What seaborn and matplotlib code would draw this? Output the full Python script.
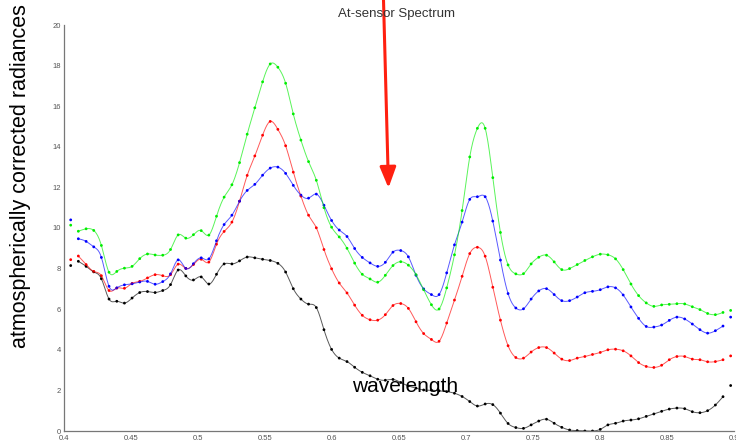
import numpy as np
import pandas as pd
import matplotlib
matplotlib.use("Agg")
import matplotlib.pyplot as plt
import seaborn as sns

wavelength = [0.4050, 0.4107, 0.4165, 0.4222, 0.4279, 0.4336, 0.4394, 0.4451, 0.4508, 0.4565,
              0.4623, 0.4680, 0.4737, 0.4795, 0.4852, 0.4909, 0.4966, 0.5024, 0.5081, 0.5138,
              0.5195, 0.5253, 0.5310, 0.5367, 0.5424, 0.5482, 0.5539, 0.5596, 0.5654, 0.5711,
              0.5768, 0.5825, 0.5883, 0.5940, 0.5997, 0.6054, 0.6112, 0.6169, 0.6226, 0.6284,
              0.6341, 0.6398, 0.6455, 0.6513, 0.6570, 0.6627, 0.6684, 0.6742, 0.6799, 0.6856,
              0.6914, 0.6971, 0.7028, 0.7085, 0.7143, 0.7200, 0.7257, 0.7314, 0.7372, 0.7429,
              0.7486, 0.7543, 0.7601, 0.7658, 0.7715, 0.7773, 0.7830, 0.7887, 0.7944, 0.8002,
              0.8059, 0.8116, 0.8173, 0.8231, 0.8288, 0.8345, 0.8402, 0.8460, 0.8517, 0.8574,
              0.8632, 0.8689, 0.8746, 0.8803, 0.8861, 0.8918, 0.8975]

green = [10.14, 9.84, 9.96, 9.88, 9.14, 7.82, 7.86, 8.02, 8.11, 8.49,
         8.72, 8.67, 8.66, 8.94, 9.66, 9.50, 9.67, 9.87, 9.65, 10.58,
         11.52, 12.13, 13.22, 14.62, 15.92, 17.20, 18.08, 17.92, 17.13, 15.62,
         14.33, 13.27, 12.35, 11.00, 10.04, 9.56, 9.00, 8.27, 7.72, 7.49,
         7.33, 7.67, 8.15, 8.34, 8.17, 7.70, 6.96, 6.22, 6.01, 7.05,
         8.68, 10.86, 13.50, 14.91, 14.91, 12.48, 9.78, 8.18, 7.74, 7.75,
         8.23, 8.56, 8.66, 8.33, 7.95, 8.00, 8.20, 8.40, 8.58, 8.71,
         8.68, 8.48, 7.95, 7.24, 6.67, 6.31, 6.14, 6.21, 6.24, 6.27,
         6.26, 6.12, 5.98, 5.79, 5.73, 5.84, 5.94]

blue = [10.40, 9.47, 9.34, 9.07, 8.55, 7.13, 7.05, 7.20, 7.25, 7.34,
        7.37, 7.23, 7.36, 7.74, 8.43, 8.01, 8.24, 8.53, 8.48, 9.37,
        10.17, 10.63, 11.32, 11.85, 12.15, 12.60, 12.95, 13.00, 12.69, 12.10,
        11.62, 11.47, 11.67, 11.12, 10.37, 9.90, 9.58, 8.99, 8.55, 8.28,
        8.11, 8.31, 8.81, 8.89, 8.58, 7.67, 7.00, 6.72, 6.72, 7.79,
        9.17, 10.29, 11.41, 11.54, 11.54, 10.34, 8.42, 6.77, 6.06, 6.02,
        6.50, 6.90, 7.01, 6.72, 6.42, 6.42, 6.60, 6.81, 6.88, 6.96,
        7.10, 7.05, 6.70, 6.11, 5.55, 5.15, 5.12, 5.22, 5.45, 5.61,
        5.52, 5.27, 4.99, 4.82, 4.94, 5.17, 5.61]

red = [8.44, 8.62, 8.20, 7.86, 7.65, 6.92, 7.04, 7.03, 7.27, 7.37,
       7.54, 7.70, 7.65, 7.70, 8.22, 8.01, 8.20, 8.46, 8.32, 9.20,
       9.83, 10.29, 11.32, 12.59, 13.55, 14.57, 15.25, 14.86, 14.05, 12.75,
       11.57, 10.63, 10.01, 8.94, 7.99, 7.29, 6.80, 6.20, 5.70, 5.48,
       5.46, 5.73, 6.18, 6.28, 6.04, 5.38, 4.80, 4.51, 4.42, 5.32,
       6.45, 7.62, 8.74, 9.05, 8.61, 7.08, 5.46, 4.20, 3.62, 3.59,
       3.89, 4.11, 4.11, 3.84, 3.54, 3.47, 3.59, 3.67, 3.77, 3.87,
       4.00, 4.03, 3.95, 3.70, 3.37, 3.18, 3.13, 3.24, 3.51, 3.67,
       3.67, 3.54, 3.51, 3.41, 3.42, 3.51, 3.70]

black = [8.15, 8.36, 8.11, 7.84, 7.50, 6.50, 6.39, 6.30, 6.55, 6.82,
         6.87, 6.82, 6.92, 7.21, 7.93, 7.64, 7.44, 7.59, 7.24, 7.72,
         8.23, 8.23, 8.38, 8.57, 8.53, 8.46, 8.40, 8.26, 7.83, 7.01,
         6.50, 6.25, 6.08, 4.99, 4.02, 3.59, 3.42, 3.14, 2.89, 2.72,
         2.55, 2.50, 2.54, 2.39, 2.22, 2.11, 2.02, 2.01, 1.98, 1.94,
         1.86, 1.70, 1.45, 1.23, 1.33, 1.30, 0.88, 0.37, 0.17, 0.13,
         0.30, 0.49, 0.58, 0.38, 0.18, 0.05, 0.02, 0.00, 0.00, 0.08,
         0.30, 0.38, 0.49, 0.54, 0.60, 0.72, 0.84, 0.97, 1.08, 1.13,
         1.10, 0.95, 0.90, 1.00, 1.28, 1.69, 2.24]

series_names = ["black", "red", "blue", "green"]
series_values = {"black": black, "red": red, "blue": blue, "green": green}
palette = {"black": "#000000", "red": "#ff0000", "blue": "#0000ff", "green": "#00ee00"}

x_ticks = [0.4, 0.45, 0.5, 0.55, 0.6, 0.65, 0.7, 0.75, 0.8, 0.85, 0.9]
x_tick_labels = ["0.4", "0.45", "0.5", "0.55", "0.6", "0.65", "0.7", "0.75", "0.8", "0.85", "0.9"]
y_ticks = [0, 2, 4, 6, 8, 10, 12, 14, 16, 18, 20]


def natural_spline(x, y, xs):
    x = np.asarray(x, float)
    y = np.asarray(y, float)
    n = len(x)
    h = np.diff(x)
    A = np.zeros((n, n))
    b = np.zeros(n)
    A[0, 0] = 1
    A[-1, -1] = 1
    for i in range(1, n - 1):
        A[i, i - 1] = h[i - 1]
        A[i, i] = 2 * (h[i - 1] + h[i])
        A[i, i + 1] = h[i]
        b[i] = 3 * ((y[i + 1] - y[i]) / h[i] - (y[i] - y[i - 1]) / h[i - 1])
    c = np.linalg.solve(A, b)
    idx = np.clip(np.searchsorted(x, xs) - 1, 0, n - 2)
    dx = xs - x[idx]
    bb = (y[idx + 1] - y[idx]) / h[idx] - h[idx] * (2 * c[idx] + c[idx + 1]) / 3
    d = (c[idx + 1] - c[idx]) / (3 * h[idx])
    return y[idx] + bb * dx + c[idx] * dx ** 2 + d * dx ** 3


# sample points table
rows = []
for s in series_names:
    for w, v in zip(wavelength, series_values[s]):
        rows.append((w, v, s))
pts = pd.DataFrame(rows, columns=["wavelength", "radiance", "series"])

# smooth curve through interior samples (first/last samples drawn as lone dots)
crow = []
xin = np.array(wavelength[1:-1])
xs = np.linspace(xin[0], xin[-1], 900)
for s in series_names:
    ys = natural_spline(xin, series_values[s][1:-1], xs)
    for a, b_ in zip(xs, ys):
        crow.append((a, b_, s))
curve = pd.DataFrame(crow, columns=["wavelength", "radiance", "series"])

sns.set_theme(style="white")
plt.rcParams["font.family"] = ["Liberation Sans", "DejaVu Sans"]

fig = plt.figure(figsize=(7.36, 4.46), dpi=100)
ax = fig.add_axes([64 / 736, 15 / 446, 670 / 736, 406 / 446])

sns.lineplot(data=curve, x="wavelength", y="radiance", hue="series", palette=palette,
             hue_order=series_names, linewidth=0.7, alpha=0.65, legend=False, ax=ax,
             estimator=None, sort=False)
sns.scatterplot(data=pts, x="wavelength", y="radiance", hue="series", palette=palette,
                hue_order=series_names, s=4, marker="o", linewidth=0, legend=False, ax=ax)

ax.set_xlim(0.4, 0.9)
ax.set_ylim(0, 20)
ax.set_xticks(x_ticks)
ax.set_xticklabels(x_tick_labels)
ax.set_yticks(y_ticks)
ax.set_yticklabels([str(t) for t in y_ticks])
ax.tick_params(axis="both", direction="in", length=4, width=0.8, color="#777777",
               labelsize=5.5, labelcolor="#555555", pad=2)
ax.tick_params(axis="x", pad=3)
ax.set_xlabel("")
ax.set_ylabel("")
for side in ["top", "right"]:
    ax.spines[side].set_visible(False)
for side in ["left", "bottom"]:
    ax.spines[side].set_color("#777777")
    ax.spines[side].set_linewidth(0.9)
ax.patch.set_alpha(0)

fig.text(21 / 736, 1 - 176 / 446, "atmospherically corrected radiances", rotation=90,
         ha="center", va="center", fontsize=15.5, color="black")
fig.text(397 / 736, 1 - 14 / 446, "At-sensor Spectrum", ha="center", va="center",
         fontsize=9.5, color="#333333")
fig.text(405 / 736, 1 - 387 / 446, "wavelength", ha="center", va="center",
         fontsize=15, color="black")

fig.patches.append(matplotlib.patches.FancyArrowPatch(
    (383.5 / 736, 1.0), (388.5 / 736, 1 - 188 / 446), transform=fig.transFigure,
    arrowstyle="-|>,head_length=0.9,head_width=0.35", mutation_scale=14,
    color="#ff2010", linewidth=2.2, shrinkA=0, shrinkB=0))

fig.savefig("out.png", dpi=100)
